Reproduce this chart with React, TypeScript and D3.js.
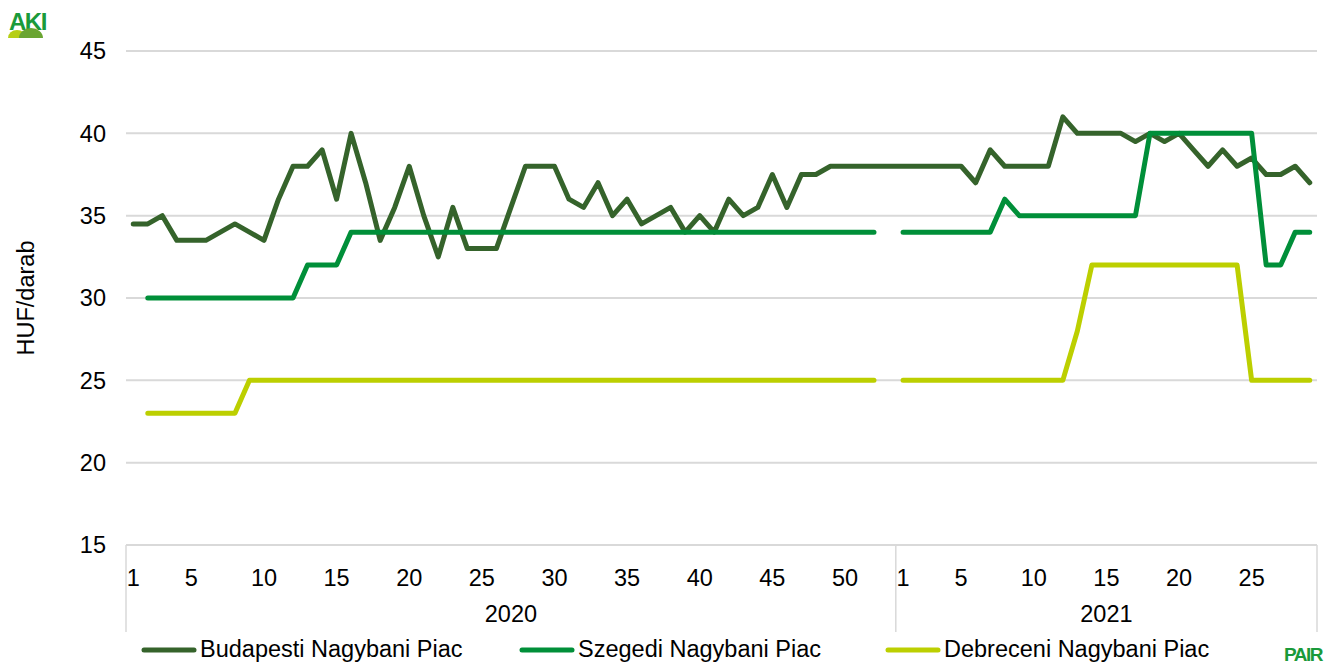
import { line, range, scaleBand, scaleLinear } from "d3";
import React from "react";

const width = 1336;
const height = 666;
const margin = { top: 51, right: 19, bottom: 121, left: 126 };
const innerWidth = width - margin.left - margin.right;
const innerHeight = height - margin.top - margin.bottom;

// week labels per year
const weeks2020 = range(1, 54);
const weeks2021 = range(1, 30);
const tickWeeks2020 = [1, 5, 10, 15, 20, 25, 30, 35, 40, 45, 50];
const tickWeeks2021 = [1, 5, 10, 15, 20, 25];
const yTicks = [15, 20, 25, 30, 35, 40, 45];

const budapest2020 = [
  34.5, 34.5, 35, 33.5, 33.5, 33.5, 34, 34.5, 34, 33.5,
  36, 38, 38, 39, 36, 40, 37, 33.5, 35.5, 38,
  35, 32.5, 35.5, 33, 33, 33, 35.5, 38, 38, 38,
  36, 35.5, 37, 35, 36, 34.5, 35, 35.5, 34, 35,
  34, 36, 35, 35.5, 37.5, 35.5, 37.5, 37.5, 38, 38,
  38, 38, 38,
];
const budapest2021 = [
  38, 38, 38, 38, 38, 37, 39, 38, 38, 38,
  38, 41, 40, 40, 40, 40, 39.5, 40, 39.5, 40,
  39, 38, 39, 38, 38.5, 37.5, 37.5, 38, 37,
];
const szeged2020 = [
  null, 30, 30, 30, 30, 30, 30, 30, 30, 30,
  30, 30, 32, 32, 32, 34, 34, 34, 34, 34,
  34, 34, 34, 34, 34, 34, 34, 34, 34, 34,
  34, 34, 34, 34, 34, 34, 34, 34, 34, 34,
  34, 34, 34, 34, 34, 34, 34, 34, 34, 34,
  34, 34, null,
];
const szeged2021 = [
  34, 34, 34, 34, 34, 34, 34, 36, 35, 35,
  35, 35, 35, 35, 35, 35, 35, 40, 40, 40,
  40, 40, 40, 40, 40, 32, 32, 34, 34,
];
const debrecen2020 = [
  null, 23, 23, 23, 23, 23, 23, 23, 25, 25,
  25, 25, 25, 25, 25, 25, 25, 25, 25, 25,
  25, 25, 25, 25, 25, 25, 25, 25, 25, 25,
  25, 25, 25, 25, 25, 25, 25, 25, 25, 25,
  25, 25, 25, 25, 25, 25, 25, 25, 25, 25,
  25, 25, null,
];
const debrecen2021 = [
  25, 25, 25, 25, 25, 25, 25, 25, 25, 25,
  25, 25, 28, 32, 32, 32, 32, 32, 32, 32,
  32, 32, 32, 32, 25, 25, 25, 25, 25,
];

const categories = [
  ...weeks2020.map((w) => `2020-${w}`),
  ...weeks2021.map((w) => `2021-${w}`),
];

const series = [
  { name: "Budapesti Nagybani Piac", color: "#35632B", values: [...budapest2020, ...budapest2021] },
  { name: "Szegedi Nagybani Piac", color: "#008F39", values: [...szeged2020, ...szeged2021] },
  { name: "Debreceni Nagybani Piac", color: "#BCCF00", values: [...debrecen2020, ...debrecen2021] },
];
const legendX = [141, 519, 885];

const xScale = scaleBand<string>().domain(categories).range([0, innerWidth]);
const yScale = scaleLinear().domain([15, 45]).range([innerHeight, 0]);
const cx = (c: string) => xScale(c)! + xScale.bandwidth() / 2;

const font = "Arial, 'Liberation Sans', sans-serif";
const fs = 23.5;

export default function App() {
  const shape = line<number | null>()
    .defined((d) => d != null)
    .x((_, i) => cx(categories[i]))
    .y((d) => yScale(d as number));

  const sepX = xScale("2021-1")!;
  const year2020Mid = sepX / 2;
  const year2021Mid = (sepX + innerWidth) / 2;

  return (
    <svg
      width={width}
      height={height}
      viewBox={`0 0 ${width} ${height}`}
      style={{ position: "absolute", left: 0, top: 0, background: "white" }}
      fontFamily={font}
    >
      {/* AKI logo */}
      <g>
        <text x={9} y={30} fontSize={24} fontWeight="bold" fill="#1a9a3a" letterSpacing={-1.5}>AKI</text>
        <path d="M8,38 A9,8 0 0 1 26,38 Z" fill="#b6cf16" />
        <path d="M19,38 A12,10 0 0 1 43,38 Z" fill="#6aa532" />
      </g>
      <text x={1284} y={661} fontSize={19} fontWeight="bold" fill="#1a9a3a" letterSpacing={-1.5}>PAIR</text>

      <g transform={`translate(${margin.left}, ${margin.top})`}>
        {yTicks.map((t) => (
          <g key={t}>
            <line x1={0} x2={innerWidth} y1={yScale(t)} y2={yScale(t)} stroke="#d9d9d9" strokeWidth={2} />
            <text x={-20} y={yScale(t)} dy="0.35em" textAnchor="end" fontSize={fs} fill="#000">{t}</text>
          </g>
        ))}
        {[0, sepX, innerWidth].map((x, i) => (
          <line key={i} x1={x} x2={x} y1={innerHeight} y2={innerHeight + 87} stroke="#d9d9d9" strokeWidth={1.5} />
        ))}
        {tickWeeks2020.map((w) => (
          <text key={`a${w}`} x={cx(`2020-${w}`)} y={innerHeight + 41} textAnchor="middle" fontSize={fs}>{w}</text>
        ))}
        {tickWeeks2021.map((w) => (
          <text key={`b${w}`} x={cx(`2021-${w}`)} y={innerHeight + 41} textAnchor="middle" fontSize={fs}>{w}</text>
        ))}
        <text x={year2020Mid} y={innerHeight + 77} textAnchor="middle" fontSize={fs}>2020</text>
        <text x={year2021Mid} y={innerHeight + 77} textAnchor="middle" fontSize={fs}>2021</text>

        {series.map((s) => (
          <path
            key={s.name}
            d={shape(s.values) ?? ""}
            fill="none"
            stroke={s.color}
            strokeWidth={5}
            strokeLinecap="round"
            strokeLinejoin="round"
          />
        ))}
      </g>

      <text transform="translate(34, 298) rotate(-90)" textAnchor="middle" fontSize={fs}>HUF/darab</text>

      {series.map((s, i) => (
        <g key={s.name} transform={`translate(${legendX[i]}, 650)`}>
          <line x1={3} x2={53} y1={0} y2={0} stroke={s.color} strokeWidth={5} strokeLinecap="round" />
          <text x={59} y={7} fontSize={fs}>{s.name}</text>
        </g>
      ))}
    </svg>
  );
}
